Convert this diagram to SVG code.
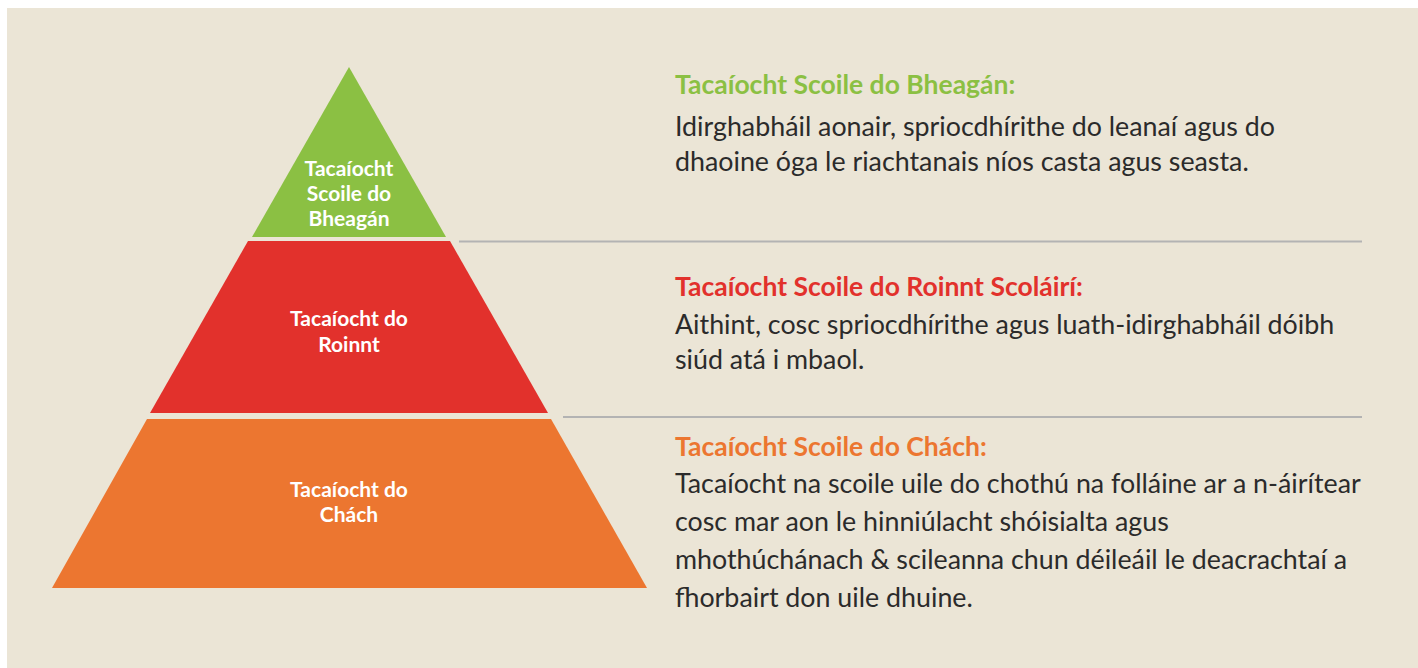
<svg xmlns="http://www.w3.org/2000/svg" width="1418" height="668" viewBox="0 0 1418 668">
<style>
.lbl{font-family:Lato,"Liberation Sans",sans-serif;font-weight:bold;font-size:21px;fill:#ffffff;text-anchor:middle}
.hd{font-family:Lato,"Liberation Sans",sans-serif;font-weight:bold;font-size:26.5px}
.bd{font-family:Lato,"Liberation Sans",sans-serif;font-size:26.8px;fill:#2b2b2b}
.sep{stroke:#b3b3b3;stroke-width:2;fill:none}
</style>
<rect x="0" y="0" width="1418" height="668" fill="#ffffff"/>
<rect x="7" y="8" width="1411" height="660" fill="#ebe5d6"/>
<g id="connectors">
<line class="sep" x1="459" y1="241.5" x2="1362" y2="241.5"/>
<line class="sep" x1="563" y1="417" x2="1362" y2="417"/>
</g>
<g id="tier-top">
<polygon points="349,67 446,237 252,237" fill="#8bc043"/>
<text class="lbl" x="349" y="176">Tacaíocht</text>
<text class="lbl" x="349" y="201">Scoile do</text>
<text class="lbl" x="349" y="226">Bheagán</text>
</g>
<g id="tier-middle">
<polygon points="248,241 450,241 548,413 150,413" fill="#e2312c"/>
<text class="lbl" x="349" y="326">Tacaíocht do</text>
<text class="lbl" x="349" y="352">Roinnt</text>
</g>
<g id="tier-bottom">
<polygon points="147,419 551,419 647,588 52,588" fill="#ec7630"/>
<text class="lbl" x="349" y="497">Tacaíocht do</text>
<text class="lbl" x="349" y="522">Chách</text>
</g>
<g id="desc-top">
<text class="hd" x="675" y="94" fill="#8bc043">Tacaíocht Scoile do Bheagán:</text>
<text class="bd" x="675" y="136">Idirghabháil aonair, spriocdhírithe do leanaí agus do</text>
<text class="bd" x="675" y="171">dhaoine óga le riachtanais níos casta agus seasta.</text>
</g>
<g id="desc-middle">
<text class="hd" x="675" y="296" fill="#e2312c">Tacaíocht Scoile do Roinnt Scoláirí:</text>
<text class="bd" x="675" y="334">Aithint, cosc spriocdhírithe agus luath-idirghabháil dóibh</text>
<text class="bd" x="675" y="369">siúd atá i mbaol.</text>
</g>
<g id="desc-bottom">
<text class="hd" x="675" y="456" fill="#ec7630">Tacaíocht Scoile do Chách:</text>
<text class="bd" x="675" y="493">Tacaíocht na scoile uile do chothú na folláine ar a n-áirítear</text>
<text class="bd" x="675" y="531">cosc mar aon le hinniúlacht shóisialta agus</text>
<text class="bd" x="675" y="569">mhothúchánach &amp; scileanna chun déileáil le deacrachtaí a</text>
<text class="bd" x="675" y="607">fhorbairt don uile dhuine.</text>
</g>
</svg>
